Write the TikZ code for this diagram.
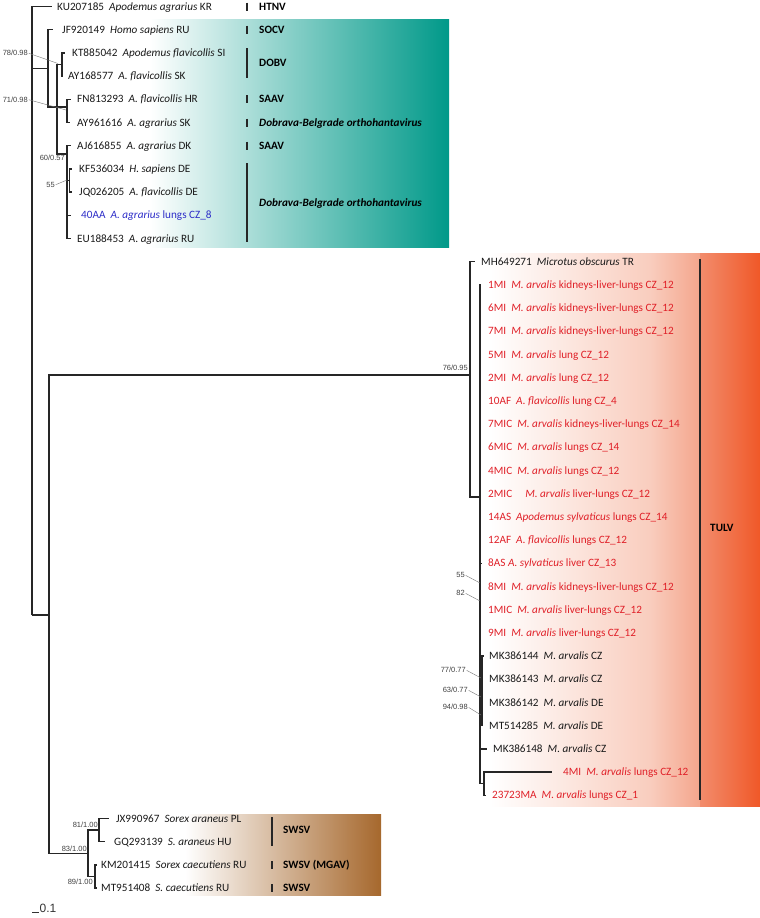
\documentclass[tikz,border=0pt]{standalone}
\usepackage{fontspec}
\setmainfont{Carlito}
\newfontfamily\bsfont{Liberation Sans}
\definecolor{tealc}{RGB}{0,153,137}
\definecolor{brownc}{RGB}{166,104,45}
\definecolor{tulvA}{RGB}{249,205,190}
\definecolor{tulvB}{RGB}{244,165,140}
\definecolor{tulvC}{RGB}{242,140,108}
\definecolor{tulvD}{RGB}{240,88,40}
\definecolor{redlab}{RGB}{224,32,40}
\definecolor{bluelab}{RGB}{45,45,200}
\newcommand\mytip[6]{%
  \coordinate (#1) at (#2,#4);
  \node[tiplab,#5] (#1L) at (#3,#4) {#6};}
\newcommand\grptick[4]{%
  \coordinate (#1a) at (#2,#3-4);
  \coordinate (#1b) at (#2,#3+4);
  \draw[grpbar] (#1a) -- (#1b);
  \node[grp] (#1) at (#2+12,#3) {#4};}
\begin{document}
\begin{tikzpicture}[x=1pt,y=-1pt,
  tiplab/.style={anchor=west,inner sep=0pt,font=\fontsize{11.2}{13}\selectfont,text height=9pt,text depth=2pt},
  redtip/.style={text=redlab},
  bluetip/.style={text=bluelab},
  blacktip/.style={text=black!90},
  grp/.style={anchor=west,inner sep=0pt,font=\bfseries\fontsize{11.2}{13}\selectfont,text height=9pt,text depth=2pt},
  br/.style={draw=black!85,line width=1.3pt},
  thickbr/.style={draw=black!85,line width=2.4pt},
  grpbar/.style={draw=black!85,line width=1.4pt},
  bs/.style={inner sep=0pt,font=\bsfont\fontsize{7.5}{9}\selectfont,text=black!75},
  lead/.style={draw=black!55,line width=0.4pt,shorten <=0.8pt}]
\useasboundingbox (0,0) rectangle (760,918);

% ---------- coloured clade boxes ----------
\shade[left color=white,right color=tealc] (150,19) rectangle (449,247);
\shade[left color=white,right color=tulvA] (490,253) rectangle (650.5,806);
\shade[left color=tulvA,right color=tulvB] (650,253) rectangle (700.5,806);
\shade[left color=tulvC,right color=tulvD] (700,253) rectangle (760,806);
\shade[left color=white,right color=brownc] (185,814) rectangle (381,895);

% ---------- tips ----------
\mytip{t0}{52}{57}{6.5}{blacktip}{KU207185~ \textit{Apodemus agrarius} KR}
\mytip{t1}{53}{62}{29.7}{blacktip}{JF920149~ \textit{Homo sapiens} RU}
\mytip{t2}{65}{72}{52.9}{blacktip}{KT885042~ \textit{Apodemus flavicollis} SI}
\mytip{t3}{62.6}{68}{76.1}{blacktip}{AY168577~ \textit{A. flavicollis} SK}
\mytip{t4}{71}{77}{99.3}{blacktip}{FN813293~ \textit{A. flavicollis} HR}
\mytip{t5}{70}{77}{122.5}{blacktip}{AY961616~ \textit{A. agrarius} SK}
\mytip{t6}{71}{77}{145.7}{blacktip}{AJ616855~ \textit{A. agrarius} DK}
\mytip{t7}{72}{79}{168.9}{blacktip}{KF536034~ \textit{H. sapiens} DE}
\mytip{t8}{72}{79}{192.1}{blacktip}{JQ026205~ \textit{A. flavicollis} DE}
\mytip{t9}{71}{81}{215.3}{bluetip}{40AA~ \textit{A. agrarius} lungs CZ\_8}
\mytip{t10}{71}{77}{238.5}{blacktip}{EU188453~ \textit{A. agrarius} RU}

\mytip{t11}{475}{481}{261.7}{blacktip}{MH649271~ \textit{Microtus obscurus} TR}
\mytip{t12}{481}{488}{284.9}{redtip}{1MI~ \textit{M. arvalis} kidneys-liver-lungs CZ\_12}
\mytip{t13}{481}{488}{308.1}{redtip}{6MI~ \textit{M. arvalis} kidneys-liver-lungs CZ\_12}
\mytip{t14}{481}{488}{331.3}{redtip}{7MI~ \textit{M. arvalis} kidneys-liver-lungs CZ\_12}
\mytip{t15}{481}{488}{354.5}{redtip}{5MI~ \textit{M. arvalis} lung CZ\_12}
\mytip{t16}{481}{488}{377.7}{redtip}{2MI~ \textit{M. arvalis} lung CZ\_12}
\mytip{t17}{481}{488}{400.9}{redtip}{10AF~ \textit{A. flavicollis} lung CZ\_4}
\mytip{t18}{481}{488}{424.1}{redtip}{7MIC~ \textit{M. arvalis} kidneys-liver-lungs CZ\_14}
\mytip{t19}{481}{488}{447.3}{redtip}{6MIC~ \textit{M. arvalis} lungs CZ\_14}
\mytip{t20}{481}{488}{470.5}{redtip}{4MIC~ \textit{M. arvalis} lungs CZ\_12}
\mytip{t21}{481}{488}{493.7}{redtip}{2MIC\hspace{13pt}\textit{M. arvalis} liver-lungs CZ\_12}
\mytip{t22}{481}{488}{516.9}{redtip}{14AS~ \textit{Apodemus sylvaticus} lungs CZ\_14}
\mytip{t23}{481}{488}{540.1}{redtip}{12AF~ \textit{A. flavicollis} lungs CZ\_12}
\mytip{t24}{482}{488}{563.3}{redtip}{8AS \textit{A. sylvaticus} liver CZ\_13}
\mytip{t25}{481}{488}{586.5}{redtip}{8MI~ \textit{M. arvalis} kidneys-liver-lungs CZ\_12}
\mytip{t26}{481}{488}{609.7}{redtip}{1MIC~ \textit{M. arvalis} liver-lungs CZ\_12}
\mytip{t27}{481}{488}{632.9}{redtip}{9MI~ \textit{M. arvalis} liver-lungs CZ\_12}
\mytip{t28}{484}{489}{656.1}{blacktip}{MK386144~ \textit{M. arvalis} CZ}
\mytip{t29}{483}{489}{679.3}{blacktip}{MK386143~ \textit{M. arvalis} CZ}
\mytip{t30}{483}{489}{702.5}{blacktip}{MK386142~ \textit{M. arvalis} DE}
\mytip{t31}{483}{489}{725.7}{blacktip}{MT514285~ \textit{M. arvalis} DE}
\mytip{t32}{487}{493}{748.9}{blacktip}{MK386148~ \textit{M. arvalis} CZ}
\mytip{t33}{552}{563}{772.1}{redtip}{4MI~ \textit{M. arvalis} lungs CZ\_12}
\mytip{t34}{486}{492}{795.3}{redtip}{23723MA~ \textit{M. arvalis} lungs CZ\_1}

\mytip{t35}{109}{116}{818.5}{blacktip}{JX990967~ \textit{Sorex araneus} PL}
\mytip{t36}{105}{114}{841.7}{blacktip}{GQ293139~ \textit{S. araneus} HU}
\mytip{t37}{97}{101}{864.9}{blacktip}{KM201415~ \textit{Sorex caecutiens} RU}
\mytip{t38}{97}{101}{888.1}{blacktip}{MT951408~ \textit{S. caecutiens} RU}

% ---------- internal nodes ----------
\coordinate (R) at (32,615);
\coordinate (A) at (48,68.4);
\coordinate (B) at (57,107);
\coordinate (C) at (62,64.5);
\coordinate (D) at (67,107);
\coordinate (E) at (67,154);
\coordinate (F) at (69.5,180.5);
\coordinate (M) at (49,615);
\coordinate (T) at (470,375);
\coordinate (U) at (480,497);
\coordinate (V) at (482,691);
\coordinate (W) at (484,783.7);
\coordinate (S1) at (88,853.5);
\coordinate (S2) at (99,830);
\coordinate (S3) at (95,876.5);

% ---------- branches ----------
\draw[br] (R) |- (t0);
\draw[br] (R) |- (A);
\draw[br] (R) -- (M);
\draw[br] (A) |- (t1);
\draw[br] (A) |- (B);
\draw[br] (B) |- (C);
\draw[br] (B) -- (D);
\draw[br] (B) |- (E);
\draw[br] (C) |- (t2);
\draw[br] (C) |- (t3);
\draw[br] (D) |- (t4);
\draw[br] (D) |- (t5);
\draw[br] (E) |- (t6);
\draw[br] (E) |- (F);
\draw[br] (E) |- (t9);
\draw[br] (E) |- (t10);
\draw[br] (F) |- (t7);
\draw[br] (F) |- (t8);
\draw[br] (M) |- (T);
\draw[br] (M) |- (S1);
\draw[br] (T) |- (t11);
\draw[br] (T) |- (U);
\foreach \k in {12,...,27} {\draw[br] (U) |- (t\k);}
\draw[br] (U) |- (V);
\draw[br] (U) |- (t32);
\draw[br] (U) |- (W);
\foreach \k in {28,...,31} {\draw[br] (V) |- (t\k);}
\draw[thickbr] (V |- t28) -- (V |- t31);
\draw[br] (W) |- (t33);
\draw[br] (W) |- (t34);
\draw[thickbr] (W |- t33) -- (W |- t34);
\draw[br] (S1) |- (S2);
\draw[br] (S1) |- (S3);
\draw[br] (S2) |- (t35);
\draw[br] (S2) |- (t36);
\draw[br] (S3) |- (t37);
\draw[br] (S3) |- (t38);

% ---------- support values ----------
\node[bs,anchor=east] (b1) at (28,53) {78/0.98};
\coordinate (b1e) at (58,63.5);
\draw[lead] (b1.east) -- (b1e);
\node[bs,anchor=east] (b2) at (28,99.5) {71/0.98};
\coordinate (b2e) at (66,110);
\draw[lead] (b2.east) -- (b2e);
\node[bs,anchor=east] (b3) at (65,158) {60/0.57};
\node[bs,anchor=east] (b4) at (55,185) {55};
\coordinate (b4e) at (67,180);
\draw[lead] (b4.east) -- (b4e);
\node[bs,anchor=east] (b5) at (468,368) {76/0.95};
\node[bs,anchor=east] (b6) at (465,575) {55};
\coordinate (b6e) at (480,583);
\draw[lead] (b6.east) -- (b6e);
\node[bs,anchor=east] (b7) at (465,593) {82};
\coordinate (b7e) at (480,601);
\draw[lead] (b7.east) -- (b7e);
\node[bs,anchor=east] (b8) at (466,670) {77/0.77};
\coordinate (b8e) at (481,678);
\draw[lead] (b8.east) -- (b8e);
\node[bs,anchor=east] (b9) at (468,690) {63/0.77};
\coordinate (b9e) at (481,697);
\draw[lead] (b9.east) -- (b9e);
\node[bs,anchor=east] (b10) at (468,707) {94/0.98};
\coordinate (b10e) at (481,715);
\draw[lead] (b10.east) -- (b10e);
\node[bs,anchor=east] (b11) at (98,825) {81/1.00};
\node[bs,anchor=east] (b12) at (87,849) {83/1.00};
\node[bs,anchor=east] (b13) at (93,882) {89/1.00};

% ---------- group labels ----------
\grptick{g0}{247}{6.5}{HTNV}
\grptick{g1}{247}{29.7}{SOCV}
\coordinate (g2a) at (247,48);
\coordinate (g2b) at (247,78);
\draw[grpbar] (g2a) -- (g2b);
\node[grp] (g2) at (259,63) {DOBV};
\grptick{g3}{247}{99.3}{SAAV}
\grptick{g4}{247}{122.5}{\textit{Dobrava-Belgrade orthohantavirus}}
\grptick{g5}{247}{145.7}{SAAV}
\coordinate (g6a) at (247,163);
\coordinate (g6b) at (247,242);
\draw[grpbar] (g6a) -- (g6b);
\node[grp] (g6) at (259,203) {\textit{Dobrava-Belgrade orthohantavirus}};
\coordinate (g7a) at (700,259);
\coordinate (g7b) at (700,800);
\draw[grpbar] (g7a) -- (g7b);
\node[grp] (g7) at (710,528) {TULV};
\coordinate (g8a) at (272,817);
\coordinate (g8b) at (272,846);
\draw[grpbar] (g8a) -- (g8b);
\node[grp] (g8) at (283,830) {SWSV};
\coordinate (g9a) at (272,861);
\coordinate (g9b) at (272,869);
\draw[grpbar] (g9a) -- (g9b);
\node[grp] (g9) at (283,864.9) {SWSV (MGAV)};
\coordinate (g10a) at (272,884);
\coordinate (g10b) at (272,892);
\draw[grpbar] (g10a) -- (g10b);
\node[grp] (g10) at (283,888.1) {SWSV};

% ---------- scale bar ----------
\coordinate (sc1) at (32,912);
\coordinate (sc2) at (38.5,912);
\draw[draw=black!80,line width=1pt] (sc1) -- (sc2);
\node[anchor=base west,inner sep=0pt,font=\bsfont\fontsize{12}{14}\selectfont,text=black!80] (sclab) at (39.5,912) {0.1};
\end{tikzpicture}
\end{document}
